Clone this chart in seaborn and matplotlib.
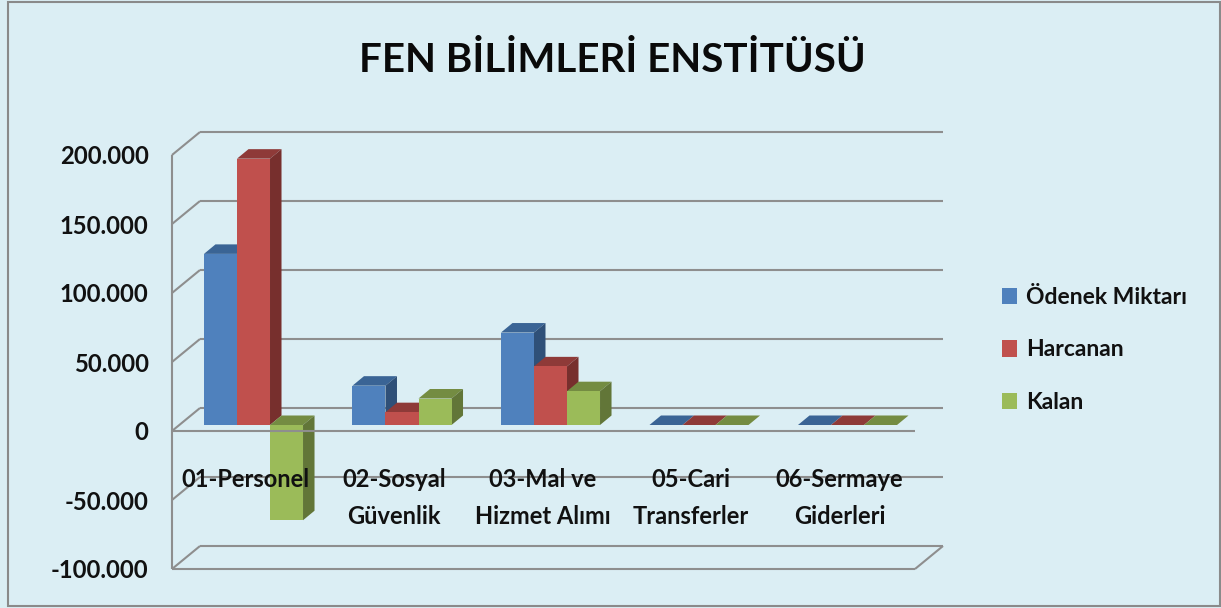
import matplotlib
matplotlib.use("Agg")
import matplotlib.pyplot as plt
import pandas as pd
import seaborn as sns
from matplotlib.patches import Polygon, Rectangle
from matplotlib.transforms import Affine2D, IdentityTransform, blended_transform_factory

categories = ["01-Personel", "02-Sosyal\nGüvenlik", "03-Mal ve\nHizmet Alımı", "05-Cari\nTransferler", "06-Sermaye\nGiderleri"]
odenek = [124000, 28500, 67000, 0, 0]
harcanan = [193000, 9300, 42500, 0, 0]
kalan = [-69000, 19200, 24500, 0, 0]
series_names = ["Ödenek Miktarı", "Harcanan", "Kalan"]
y_ticks = [200000, 150000, 100000, 50000, 0, -50000, -100000]
y_labels = ["200.000", "150.000", "100.000", "50.000", "0", "-50.000", "-100.000"]

W, H = 1221, 608
BG = "#DBEEF4"
GRID = "#8E8E8E"
face = ["#4F81BD", "#C0504D", "#9BBB59"]
top_col = ["#3A6495", "#8E3A38", "#748C42"]
side_col = ["#2F5078", "#772F2D", "#627638"]
# depth of a bar in pixels
DX, DY = 11.5, 9.5

sns.set_style("white")
plt.rcParams["font.family"] = ["Lato", "DejaVu Sans"]

df = pd.DataFrame({
    "kalem": categories * 3,
    "tur": [n for n in series_names for _ in categories],
    "tutar": odenek + harcanan + kalan,
})

fig = plt.figure(figsize=(W / 100, H / 100), dpi=100, facecolor=BG)
# plane of the bars: x 179..922 px, y 149..563 px from the top
ax = fig.add_axes([179.25 / W, 1 - 563 / H, 742.5 / W, 414 / H])
ax.patch.set_alpha(0)

sns.barplot(data=df, x="kalem", y="tutar", hue="tur", hue_order=series_names, palette=face,
            saturation=1, width=0.667, gap=0, linewidth=0, ax=ax)
ax.set_xlim(-0.5, 4.5)
ax.set_ylim(-100000, 200000)
ax.set_xlabel("")
ax.set_ylabel("")
for s in ax.spines.values():
    s.set_visible(False)
ax.spines["bottom"].set_position(("data", 0))

# fake 3d sides and tops, each bar stacked over the one on its left
for k in range(len(categories)):
    for i, cont in enumerate(ax.containers):
        bar = cont[k]
        z = 3 + k + i * 0.3
        bar.set_zorder(z + 0.2)
        x0, y0 = ax.transData.transform((bar.get_x(), bar.get_y()))
        x1, y1 = ax.transData.transform((bar.get_x() + bar.get_width(), bar.get_y() + bar.get_height()))
        lo, hi = min(y0, y1), max(y0, y1)
        ax.add_patch(Polygon([(x0, hi), (x1, hi), (x1 + DX, hi + DY), (x0 + DX, hi + DY)], closed=True, fc=top_col[i], lw=0,
                             transform=IdentityTransform(), zorder=z + 0.1, clip_on=False))
        ax.add_patch(Polygon([(x1, lo), (x1 + DX, lo + DY), (x1 + DX, hi + DY), (x1, hi)], closed=True, fc=side_col[i], lw=0,
                             transform=IdentityTransform(), zorder=z + 0.1, clip_on=False))

# walls of the chart, y follows the value axis
FRONT_L, FRONT_R, BACK_L, BACK_R = 172, 915, 200, 943
front = blended_transform_factory(IdentityTransform(), ax.transData + Affine2D().translate(0, -6))
back = blended_transform_factory(IdentityTransform(), ax.transData + Affine2D().translate(0, 17))
line_kw = dict(color=GRID, lw=1.5, clip_on=False, solid_capstyle="butt")
for v in y_ticks:
    ax.plot([BACK_L, BACK_R], [v, v], transform=back, zorder=1, **line_kw)
    p0 = front.transform((FRONT_L, v))
    p1 = back.transform((BACK_L, v))
    ax.plot([p0[0], p1[0]], [p0[1], p1[1]], transform=IdentityTransform(), zorder=1, **line_kw)
ax.plot([FRONT_L, FRONT_L], [y_ticks[0], y_ticks[-1]], transform=front, zorder=2, **line_kw)
ax.plot([FRONT_L, FRONT_R], [y_ticks[-1], y_ticks[-1]], transform=front, zorder=2, **line_kw)
ax.plot([FRONT_L, FRONT_R], [0, 0], transform=front, zorder=20, **line_kw)
p0 = front.transform((FRONT_R, y_ticks[-1]))
p1 = back.transform((BACK_R, y_ticks[-1]))
ax.plot([p0[0], p1[0]], [p0[1], p1[1]], transform=IdentityTransform(), zorder=2, **line_kw)

# tick labels
ax.set_yticks(y_ticks)
ax.set_yticklabels(y_labels)
ax.tick_params(axis="y", length=0, pad=22, labelsize=17.2)
ax.tick_params(axis="x", length=0, pad=31, labelsize=17)
ax.set_xticks(range(len(categories)))
ax.set_xticklabels(categories, linespacing=1.72)
shift_y = Affine2D().translate(0, -6)
for lab in ax.get_yticklabels():
    lab.set_transform(lab.get_transform() + shift_y)
    lab.set_fontweight("bold")
    lab.set_color("#111111")
shift_x = Affine2D().translate(-8, 0)
for lab in ax.get_xticklabels():
    lab.set_transform(lab.get_transform() + shift_x)
    lab.set_fontweight("bold")
    lab.set_color("#111111")
ax.xaxis.set_zorder(30)

fig.text(612 / W, 1 - 60 / H, "FEN BİLİMLERİ ENSTİTÜSÜ", ha="center", va="center",
         fontsize=29, fontweight="bold", color="#0A0A0A")

sns.move_legend(ax, "center left", bbox_to_anchor=(991 / W, 1 - 350 / H), bbox_transform=fig.transFigure,
                frameon=False, title=None, fontsize=16.5, handlelength=0.62, handleheight=0.7,
                labelspacing=1.38, handletextpad=0.4, borderpad=0)
for t in ax.get_legend().get_texts():
    t.set_fontweight("bold")
    t.set_color("#111111")

# outer frame
fig.add_artist(Rectangle((8 / W, 1 - 606 / H), 1212 / W, 604 / H, transform=fig.transFigure,
                         fill=False, ec="#8A8A8A", lw=1.5))

fig.savefig("out.png", dpi=100, facecolor=BG)
